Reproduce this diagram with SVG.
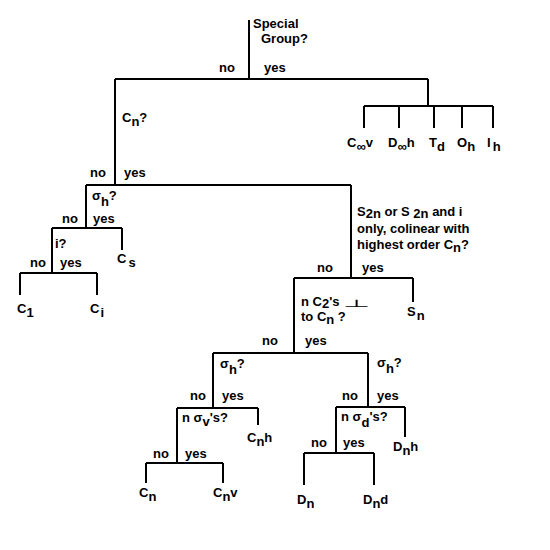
<svg xmlns="http://www.w3.org/2000/svg" width="550" height="550" viewBox="0 0 550 550">
<style>
text{font-family:"Liberation Sans",Arial,sans-serif;font-weight:bold;font-size:13px;fill:#000}
.c{stroke:#000;stroke-width:2;fill:none}
</style>
<rect width="550" height="550" fill="#fff"/>
<g id="connectors" class="c">
<path d="M249,20V79M115,79H428M428,79V106M364,106H493M364,106V128M399,106V128M434,106V128M462,106V128M493,106V128"/>
<path d="M115,79V185M86,185H351M86,185V228M52,228H122M122,228V250M52,228V273M20,273H97M20,273V295M97,273V295"/>
<path d="M351,185V278M294,278H413M413,278V302M294,278V353M213,353H368"/>
<path d="M213,353V408M177,408H258M258,408V425M177,408V463M146,463H223M146,463V483M223,463V483"/>
<path d="M368,353V407M336,407H405M405,407V437M336,407V453M304,453H374M304,453V485M374,453V485"/>
</g>
<g id="n-special"><text x="253" y="28">Special</text><text x="261" y="43">Group?</text><text x="219" y="72">no</text><text x="264" y="72">yes</text></g>
<g id="l-cinfv"><text x="347" y="147">C<tspan dy="4">∞</tspan><tspan dy="-4">v</tspan></text></g>
<g id="l-dinfh"><text x="388" y="147">D<tspan dy="4">∞</tspan><tspan dy="-4">h</tspan></text></g>
<g id="l-td"><text x="429" y="147">T<tspan dy="4">d</tspan></text></g>
<g id="l-oh"><text x="457" y="147">O<tspan dy="4">h</tspan></text></g>
<g id="l-ih"><text x="487" y="147">I<tspan dy="4" dx="2">h</tspan></text></g>
<g id="n-cn"><text x="122" y="122">C<tspan dy="4">n</tspan><tspan dy="-4">?</tspan></text><text x="90" y="177">no</text><text x="124" y="177">yes</text></g>
<g id="n-sigmah1"><text x="92" y="200">σ<tspan dy="6">h</tspan><tspan dy="-6">?</tspan></text><text x="62" y="223">no</text><text x="93" y="223">yes</text></g>
<g id="l-cs"><text x="117" y="263">C<tspan dy="4" dx="2">s</tspan></text></g>
<g id="n-i"><text x="55" y="248">i?</text><text x="30" y="267">no</text><text x="60" y="267">yes</text></g>
<g id="l-c1"><text x="17" y="313">C<tspan dy="4">1</tspan></text></g>
<g id="l-ci"><text x="90" y="313">C<tspan dy="4" dx="1">i</tspan></text></g>
<g id="n-s2n"><text x="357" y="216">S<tspan dy="2">2n</tspan><tspan dy="-2"> or S </tspan><tspan dy="2">2n</tspan><tspan dy="-2"> and i</tspan></text><text x="357" y="233">only, colinear with</text><text x="357" y="249">highest order C<tspan dy="3">n</tspan><tspan dy="-3">?</tspan></text><text x="317" y="272">no</text><text x="362" y="272">yes</text></g>
<g id="l-sn"><text x="407" y="316">S<tspan dy="4" dx="1">n</tspan></text></g>
<g id="n-nc2"><text x="301" y="306">n C<tspan dy="2">2</tspan><tspan dy="-2">'s</tspan></text><text transform="translate(343,307) scale(2.4,0.8)" style="font-weight:normal;font-family:'DejaVu Sans',sans-serif;font-size:13px">⊥</text><text x="301" y="321">to C<tspan dy="3">n</tspan><tspan dy="-3"> ?</tspan></text><text x="262" y="345">no</text><text x="305" y="345">yes</text></g>
<g id="n-sigmah2"><text x="220" y="368">σ<tspan dy="6">h</tspan><tspan dy="-6">?</tspan></text><text x="190" y="400">no</text><text x="222" y="400">yes</text></g>
<g id="l-cnh"><text x="247" y="442">C<tspan dy="4">n</tspan><tspan dy="-4">h</tspan></text></g>
<g id="n-sigmav"><text x="182" y="422">n σ<tspan dy="4">v</tspan><tspan dy="-4">'s?</tspan></text><text x="153" y="458">no</text><text x="185" y="458">yes</text></g>
<g id="l-cn"><text x="139" y="497">C<tspan dy="4">n</tspan></text></g>
<g id="l-cnv"><text x="213" y="497">C<tspan dy="4">n</tspan><tspan dy="-4">v</tspan></text></g>
<g id="n-sigmah3"><text x="377" y="367">σ<tspan dy="6">h</tspan><tspan dy="-6">?</tspan></text><text x="342" y="400">no</text><text x="377" y="400">yes</text></g>
<g id="l-dnh"><text x="393" y="451">D<tspan dy="4">n</tspan><tspan dy="-4">h</tspan></text></g>
<g id="n-sigmad"><text x="341" y="421">n σ<tspan dy="6">d</tspan><tspan dy="-6">'s?</tspan></text><text x="311" y="447">no</text><text x="343" y="447">yes</text></g>
<g id="l-dn"><text x="297" y="504">D<tspan dy="4">n</tspan></text></g>
<g id="l-dnd"><text x="363" y="504">D<tspan dy="4">n</tspan><tspan dy="-4">d</tspan></text></g>
</svg>
